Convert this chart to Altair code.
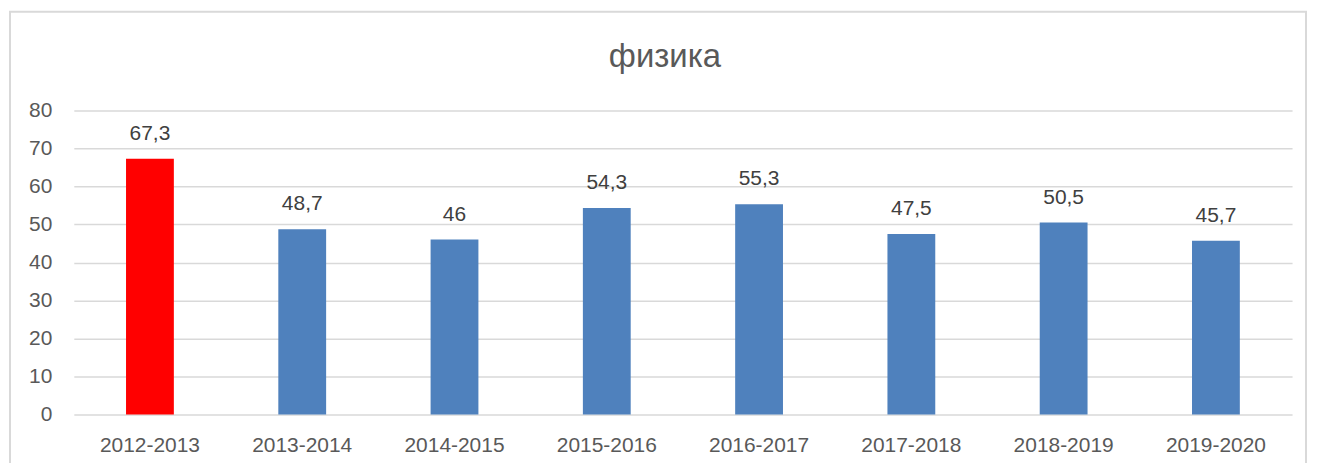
import altair as alt
import pandas as pd

years = ["2012-2013", "2013-2014", "2014-2015", "2015-2016",
         "2016-2017", "2017-2018", "2018-2019", "2019-2020"]
values = [67.3, 48.7, 46, 54.3, 55.3, 47.5, 50.5, 45.7]
labels = ["67,3", "48,7", "46", "54,3", "55,3", "47,5", "50,5", "45,7"]
colors = ["#FF0000", "#4F81BD", "#4F81BD", "#4F81BD", "#4F81BD", "#4F81BD", "#4F81BD", "#4F81BD"]
y_ticks = [0, 10, 20, 30, 40, 50, 60, 70, 80]
title_text = "физика"

df = pd.DataFrame({"year": years, "value": values, "label": labels, "color": colors})

FONT = "Liberation Sans"
GRAY = "#595959"

x = alt.X("year:N", sort=years, title=None,
          scale=alt.Scale(paddingInner=0.686, paddingOuter=0.343),
          axis=alt.Axis(labelAngle=0, labelFontSize=21, labelColor=GRAY, labelFont=FONT,
                        labelPadding=20, ticks=False, domain=False, grid=False,
                        labelOverlap=False))
y = alt.Y("value:Q", title=None,
          scale=alt.Scale(domain=[0, 80], nice=False),
          axis=alt.Axis(values=y_ticks, tickCount=20, labelFontSize=21, labelColor=GRAY,
                        labelFont=FONT, labelPadding=22, ticks=False, domain=False,
                        labelOverlap=False, labelFlush=False,
                        grid=True, gridColor="#D9D9D9", gridWidth=1.5))

base = alt.Chart(df).encode(x=x, y=y)

bars = base.mark_bar().encode(color=alt.Color("color:N", scale=None))

text = base.mark_text(fontSize=21, font=FONT, color="#404040",
                      baseline="middle", dy=-25).encode(text="label:N")

frame_data = alt.Data(values=[{"t": title_text}])
frame = alt.Chart(frame_data).mark_rect(fill="transparent", stroke="#D9D9D9", strokeWidth=2).encode(
    x=alt.value(-64), x2=alt.value(1236), y=alt.value(-99), y2=alt.value(365)
)
title = alt.Chart(frame_data).mark_text(fontSize=33, font=FONT, color=GRAY,
                                        baseline="middle", align="center").encode(
    x=alt.value(593), y=alt.value(-54), text="t:N"
)

chart = alt.layer(bars, text, frame, title).properties(
    width=1222, height=305,
    autosize=alt.AutoSizeParams(type="none"),
    padding={"left": 66, "top": 102, "right": 20, "bottom": 48},
).configure_view(stroke=None)

chart.save("out.html", embed_options={"renderer": "svg", "actions": False})
